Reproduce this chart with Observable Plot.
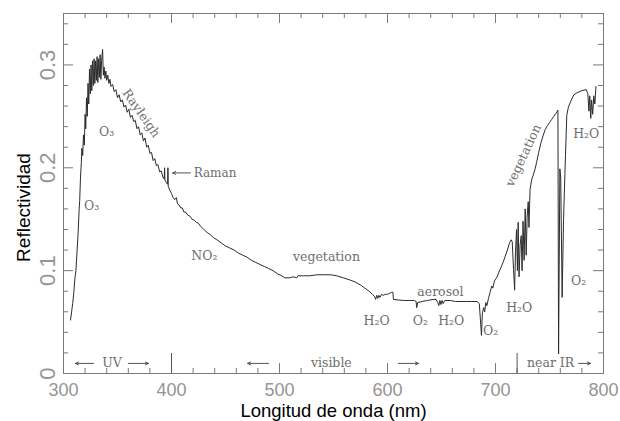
<!DOCTYPE html>
<html>
<head>
<meta charset="utf-8">
<script src="https://cdn.jsdelivr.net/npm/d3@7"></script>
<script src="https://cdn.jsdelivr.net/npm/@observablehq/plot@0.6"></script>
<style>
  html, body { margin: 0; padding: 0; background: #fff; }
  svg { display: block; }
</style>
</head>
<body>
<script>
// ---- data: reflectance spectrum (wavelength nm, reflectance) ----
const wavelength = [
  306.5,307.5,308.5,309.5,310.5,311.5,312.5,313.5,314.5,315.0,315.7,316.5,317.0,317.8,318.5,319.3,
  320.0,320.6,321.3,322.0,322.7,323.4,324.1,324.8,325.5,326.2,326.9,327.6,328.3,329.0,329.7,330.4,
  331.1,331.8,332.5,333.2,333.9,334.6,335.3,336.2,336.9,337.6,338.4,339.2,340.0,341.0,342.0,343.0,
  344.0,345.5,347.0,348.5,350.0,351.5,353.0,354.5,356.0,357.5,359.0,360.5,362.0,363.5,365.0,366.5,
  368.0,369.5,371.0,372.5,374.0,375.5,377.0,378.5,380.0,381.5,383.0,384.5,386.0,387.5,389.0,390.5,
  392.0,393.3,393.6,393.9,395.0,396.4,396.7,397.0,398.5,400.0,401.5,403.0,404.5,405.5,407.0,408.5,
  410.0,411.5,413.0,415.0,417.0,419.0,421.0,423.0,425.0,427.0,430.0,433.0,436.0,439.0,442.0,446.0,
  450.0,454.0,458.0,462.0,466.0,470.0,474.0,478.0,482.0,486.0,490.0,494.0,498.0,502.0,505.0,509.0,
  513.0,516.0,517.0,522.0,528.0,535.0,541.0,547.0,553.0,559.0,565.0,570.0,575.0,579.0,583.0,586.0,
  588.0,589.0,590.0,591.0,592.0,593.0,594.5,596.0,598.0,600.0,602.0,604.0,605.0,605.5,610.0,615.0,
  620.0,625.0,626.5,627.0,628.0,632.0,637.0,642.0,645.0,646.5,647.5,648.5,649.5,650.5,651.5,653.0,
  658.0,663.0,668.0,673.0,678.0,683.0,685.0,686.3,687.0,687.8,689.0,690.0,691.0,692.0,693.5,695.0,
  696.5,697.5,699.0,701.0,703.0,705.0,707.0,709.0,711.0,713.0,714.5,715.5,716.7,717.7,718.5,719.5,
  720.3,721.0,721.8,722.8,723.8,724.6,725.5,726.5,727.5,728.4,729.3,730.3,731.0,732.0,733.6,735.0,
  736.7,738.0,740.0,742.0,744.0,746.0,748.0,750.0,752.0,754.0,756.0,757.8,758.4,759.6,760.4,761.7,
  763.0,764.8,766.0,767.5,769.4,772.5,775.6,780.0,784.0,785.5,786.5,787.3,788.2,789.0,790.0,791.0,
  792.0,793.0
];
const reflectance = [
  0.052,0.060,0.068,0.078,0.092,0.100,0.118,0.136,0.160,0.168,0.190,0.205,0.219,0.212,0.232,0.222,
  0.252,0.238,0.268,0.250,0.282,0.262,0.296,0.272,0.300,0.275,0.304,0.280,0.306,0.282,0.304,0.285,
  0.308,0.283,0.306,0.288,0.310,0.286,0.304,0.315,0.290,0.298,0.287,0.294,0.285,0.290,0.282,0.286,
  0.279,0.281,0.274,0.276,0.268,0.271,0.264,0.266,0.259,0.261,0.254,0.257,0.249,0.251,0.245,0.246,
  0.238,0.240,0.232,0.234,0.226,0.229,0.220,0.222,0.214,0.215,0.207,0.209,0.202,0.203,0.196,0.197,
  0.191,0.189,0.200,0.188,0.186,0.184,0.200,0.182,0.178,0.175,0.171,0.169,0.171,0.165,0.164,0.161,
  0.161,0.157,0.157,0.154,0.153,0.150,0.149,0.147,0.146,0.143,0.140,0.137,0.135,0.132,0.130,0.127,
  0.124,0.122,0.120,0.117,0.115,0.113,0.110,0.108,0.106,0.104,0.102,0.100,0.097,0.095,0.093,0.093,
  0.094,0.093,0.095,0.095,0.095,0.096,0.096,0.096,0.095,0.093,0.091,0.089,0.086,0.083,0.080,0.077,
  0.075,0.072,0.076,0.073,0.076,0.074,0.077,0.076,0.077,0.077,0.078,0.079,0.079,0.072,0.0715,0.071,
  0.071,0.071,0.070,0.064,0.069,0.070,0.071,0.072,0.072,0.069,0.066,0.071,0.067,0.071,0.068,0.071,
  0.071,0.070,0.070,0.070,0.070,0.070,0.068,0.048,0.037,0.058,0.064,0.060,0.069,0.066,0.073,0.079,
  0.085,0.083,0.090,0.093,0.098,0.103,0.108,0.114,0.120,0.127,0.130,0.128,0.101,0.081,0.118,0.140,
  0.100,0.147,0.094,0.125,0.134,0.100,0.148,0.110,0.160,0.115,0.152,0.167,0.142,0.179,0.189,0.193,
  0.199,0.205,0.215,0.224,0.231,0.237,0.241,0.244,0.247,0.250,0.253,0.256,0.019,0.199,0.190,0.074,
  0.150,0.212,0.251,0.259,0.264,0.271,0.273,0.275,0.276,0.272,0.255,0.270,0.248,0.266,0.252,0.270,
  0.262,0.279
];

// ---- axes ----
const xTickLabels = [300, 400, 500, 600, 700, 800];
const xMinorTicks = [320, 340, 360, 380, 420, 440, 460, 480, 520, 540, 560, 580, 620, 640, 660, 680, 720, 740, 760, 780];
const yTickLabels = [0, 0.1, 0.2, 0.3];
const yMinorTicks = [0.02, 0.04, 0.06, 0.08, 0.12, 0.14, 0.16, 0.18, 0.22, 0.24, 0.26, 0.28, 0.32, 0.34];
const regionSeparators = [400, 720];
const xTitle = "Longitud de onda (nm)";
const yTitle = "Reflectividad";

// ---- annotations ----
const annText   = ["O₃", "O₃", "Rayleigh", "NO₂", "vegetation", "H₂O", "O₂", "H₂O", "aerosol", "O₂", "H₂O", "vegetation", "O₂", "H₂O"];
const annX      = [326, 340, 372, 430.5, 543.5, 590, 630.5, 659, 649, 695.5, 722, 726, 777, 784];
const annY      = [0.163, 0.235, 0.253, 0.114, 0.113, 0.051, 0.051, 0.051, 0.079, 0.041, 0.064, 0.212, 0.090, 0.233];
const annRotate = [0, 0, 55, 0, 0, 0, 0, 0, 0, 0, 0, -65, 0, 0];

const ramanText = ["Raman"];
const ramanX = [420.5];
const ramanY = [0.195];

const regionText = ["UV", "visible", "near IR"];
const regionX = [345, 548, 751];
const regionY = [0.0098, 0.0098, 0.0098];

const arrowFromX = [327.8, 360, 489.8, 610, 776.9, 417.6];
const arrowToX   = [311, 378.7, 470.4, 628.7, 788, 401];
const arrowY     = [0.0098, 0.0098, 0.0098, 0.0098, 0.0098, 0.195];

// ---- build ----
const spectrum = wavelength.map((w, i) => ({w, r: reflectance[i]}));
const ann = annText.map((t, i) => ({t, x: annX[i], y: annY[i], rot: annRotate[i]}));
const arrows = arrowFromX.map((x1, i) => ({x1, x2: arrowToX[i], y: arrowY[i]}));
const regions = regionText.map((t, i) => ({t, x: regionX[i], y: regionY[i]}));
const raman = ramanText.map((t, i) => ({t, x: ramanX[i], y: ramanY[i]}));

const frameColor = "#7a7a7a";
const labelGray = "#959595";
const annGray = "#6e6e6e";
const serif = "DejaVu Serif, serif";
const sans = "Liberation Sans, Arial, sans-serif";

const chart = Plot.plot({
  width: 620,
  height: 421,
  marginLeft: 63,
  marginRight: 17,
  marginTop: 13,
  marginBottom: 48,
  style: {background: "white", fontFamily: sans, overflow: "visible"},
  x: {domain: [300, 800]},
  y: {domain: [0, 0.35]},
  marks: [
    Plot.frame({stroke: frameColor}),
    // inward ticks: bottom, top, left, right
    Plot.tickX(xMinorTicks, {x: d => d, insetTop: 355, stroke: frameColor}),
    Plot.tickX(xTickLabels, {x: d => d, insetTop: 350, stroke: frameColor}),
    Plot.tickX(xMinorTicks, {x: d => d, insetBottom: 355, stroke: frameColor}),
    Plot.tickX(xTickLabels, {x: d => d, insetBottom: 350, stroke: frameColor}),
    Plot.tickY(yMinorTicks, {y: d => d, insetRight: 535, stroke: frameColor}),
    Plot.tickY(yTickLabels, {y: d => d, insetRight: 530, stroke: frameColor}),
    Plot.tickY(yMinorTicks, {y: d => d, insetLeft: 535, stroke: frameColor}),
    Plot.tickY(yTickLabels, {y: d => d, insetLeft: 530, stroke: frameColor}),
    Plot.tickX(regionSeparators, {x: d => d, insetTop: 340, stroke: "#555"}),
    Plot.axisX({ticks: xTickLabels, tickSize: 0, tickPadding: 10, fontSize: 18, fill: labelGray, label: null, tickFormat: d => String(d)}),
    Plot.axisY({ticks: yTickLabels, tickSize: 0, tickPadding: 9, tickRotate: -90, fontSize: 22, fill: labelGray, label: null, tickFormat: d => String(d)}),
    // spectrum
    Plot.line(spectrum, {x: "w", y: "r", stroke: "#2b2b2b", strokeWidth: 1}),
    // annotations
    Plot.text(ann, {x: "x", y: "y", text: "t", rotate: "rot", fontFamily: serif, fontSize: 12.5, fill: annGray}),
    Plot.text(raman, {x: "x", y: "y", text: "t", textAnchor: "start", fontFamily: serif, fontSize: 12, fill: annGray}),
    Plot.text(regions, {x: "x", y: "y", text: "t", fontFamily: serif, fontSize: 12.5, fill: annGray}),
    Plot.arrow(arrows, {x1: "x1", x2: "x2", y1: "y", y2: "y", stroke: "#555", strokeWidth: 1, headLength: 5, headAngle: 50}),
    // axis titles
    Plot.text([xTitle], {frameAnchor: "bottom", dy: 43, fontSize: 18.5, fill: "black", fontFamily: sans}),
    Plot.text([yTitle], {frameAnchor: "left", rotate: -90, textAnchor: "middle", lineAnchor: "middle", dx: -40, dy: 14, fontSize: 19, fill: "black", fontFamily: sans})
  ]
});
document.body.appendChild(chart);
</script>
</body>
</html>
